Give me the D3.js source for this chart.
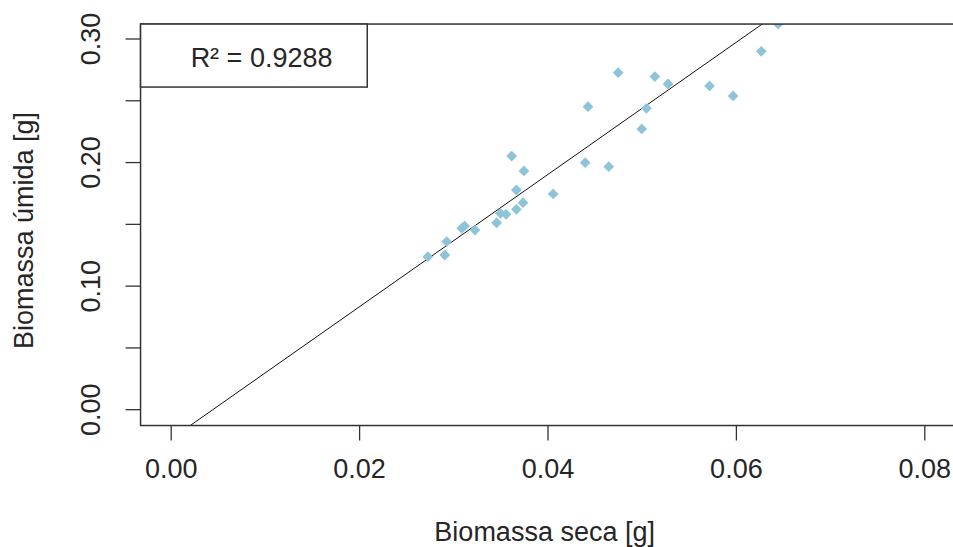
<!DOCTYPE html>
<html>
<head>
<meta charset="utf-8">
<script src="https://cdn.jsdelivr.net/npm/d3@7"></script>
<style>
  body { margin: 0; background: #fff; }
  text { font-family: "Liberation Sans", Arial, sans-serif; fill: #262626; }
</style>
</head>
<body>
<div class="chart"></div>
<script>
// dry vs wet biomass, scatter with fitted line
var biomassaSeca = [0.0273, 0.0291, 0.0293, 0.0309, 0.0312, 0.0323, 0.0346, 0.0350, 0.0356, 0.0367,
    0.0374, 0.0367, 0.0375, 0.0362, 0.0406, 0.0440, 0.0465, 0.0443, 0.0475, 0.0500,
    0.0505, 0.0514, 0.0528, 0.0572, 0.0597, 0.0627, 0.0645];
var biomassaUmida = [0.1238, 0.1252, 0.1360, 0.1468, 0.1487, 0.1454, 0.1513, 0.1589, 0.1581, 0.1622,
    0.1675, 0.1778, 0.1932, 0.2053, 0.1746, 0.1999, 0.1967, 0.2452, 0.2727, 0.2272,
    0.2439, 0.2696, 0.2636, 0.2620, 0.2539, 0.2900, 0.3121];
var fitCoef = { intercept: -0.0239, slope: 5.351 };
var xTicks = [0, 0.02, 0.04, 0.06, 0.08];
var yTicks = [0, 0.05, 0.10, 0.15, 0.20, 0.25, 0.30];
var yTickLabels = ["0.00", "", "0.10", "", "0.20", "", "0.30"];
var legendText = "R² = 0.9288";

var svgWidth = 953;
var svgHeight = 547;
var fontSize = 27;

var data = biomassaSeca.map(function(d, i) {
    return { seca: d, umida: biomassaUmida[i] };
});

var svg = d3.select(".chart")
    .append("svg")
    .attr("width", svgWidth)
    .attr("height", svgHeight);

// scales set from the tick positions
var xScale = d3.scaleLinear().domain([0, 0.08]).range([170.7, 924.3]);
var yScale = d3.scaleLinear().domain([0, 0.30]).range([409.7, 39]);

// plot region = limits with 4% padding (like R)
var xLim = [-0.0032, 0.0832];
var yLim = [-0.0128, 0.3121];
var plotLeft = xScale(xLim[0]), plotRight = xScale(xLim[1]);
var plotTop = yScale(yLim[1]), plotBottom = yScale(yLim[0]);

svg.append("clipPath")
    .attr("id", "plotClip")
    .append("rect")
    .attr("x", plotLeft)
    .attr("y", plotTop)
    .attr("width", plotRight - plotLeft)
    .attr("height", plotBottom - plotTop);

var plot = svg.append("g").attr("clip-path", "url(#plotClip)");

// regression line
plot.append("line")
    .attr("x1", xScale(xLim[0]))
    .attr("y1", yScale(fitCoef.intercept + fitCoef.slope * xLim[0]))
    .attr("x2", xScale(xLim[1]))
    .attr("y2", yScale(fitCoef.intercept + fitCoef.slope * xLim[1]))
    .attr("stroke", "#111")
    .attr("stroke-width", 1);

var diamond = d3.symbol().type(d3.symbolSquare).size(58);

plot.selectAll(".pt")
    .data(data)
    .enter()
    .append("path")
    .attr("class", "pt")
    .attr("d", diamond)
    .attr("transform", function(d) {
        return "translate(" + xScale(d.seca) + "," + yScale(d.umida) + ") rotate(45)";
    })
    .attr("fill", "#8dc4d9");

// axes
var bottomAxis = d3.axisBottom(xScale)
    .tickValues(xTicks)
    .tickSize(15)
    .tickPadding(18)
    .tickFormat(d3.format(".2f"));
var leftAxis = d3.axisLeft(yScale)
    .tickValues(yTicks)
    .tickSize(15)
    .tickFormat(function(d, i) { return yTickLabels[i]; });

var gx = svg.append("g")
    .attr("transform", "translate(0," + plotBottom + ")")
    .call(bottomAxis);
gx.selectAll("text").attr("font-size", fontSize).attr("fill", "#262626");

var gy = svg.append("g")
    .attr("transform", "translate(" + plotLeft + ",0)")
    .call(leftAxis);
gy.selectAll(".tick").attr("transform", null);
gy.selectAll(".tick line")
    .attr("y1", function(d) { return yScale(d); })
    .attr("y2", function(d) { return yScale(d); });
gy.selectAll("text")
    .attr("font-size", fontSize)
    .attr("fill", "#262626")
    .attr("text-anchor", "middle")
    .attr("dy", null)
    .attr("x", null)
    .attr("y", 0)
    .attr("transform", function(d) { return "translate(-41," + yScale(d) + ") rotate(-90)"; });

svg.selectAll(".domain").remove();
svg.selectAll(".tick line").attr("stroke", "#333").attr("stroke-width", 1.3);

// box
svg.append("rect")
    .attr("x", plotLeft)
    .attr("y", plotTop)
    .attr("width", plotRight - plotLeft)
    .attr("height", plotBottom - plotTop)
    .attr("fill", "none")
    .attr("stroke", "#333")
    .attr("stroke-width", 1.5);

// legend
svg.append("rect")
    .attr("x", plotLeft)
    .attr("y", plotTop)
    .attr("width", 226.7)
    .attr("height", 63)
    .attr("fill", "#fff")
    .attr("stroke", "#333")
    .attr("stroke-width", 1.5);
svg.append("text")
    .attr("x", plotLeft + 121)
    .attr("y", 66.5)
    .attr("text-anchor", "middle")
    .attr("font-size", fontSize)
    .text(legendText);

// axis titles
svg.append("text")
    .attr("x", xScale(0.0397))
    .attr("y", 541)
    .attr("text-anchor", "middle")
    .attr("font-size", fontSize)
    .text("Biomassa seca [g]");

svg.append("text")
    .attr("transform", "translate(33," + yScale(0.145) + ") rotate(-90)")
    .attr("text-anchor", "middle")
    .attr("font-size", fontSize)
    .text("Biomassa úmida [g]");
</script>
</body>
</html>
